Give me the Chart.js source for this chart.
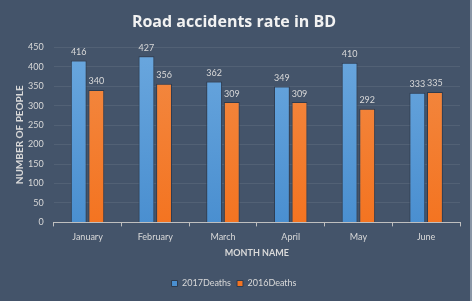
<!DOCTYPE html>
<html>
<head>
<meta charset="utf-8">
<script src="https://cdn.jsdelivr.net/npm/chart.js@4.4.0/dist/chart.umd.min.js"></script>
<style>
  html, body { margin: 0; padding: 0; background: #44546a; }
  #wrap { position: relative; width: 472px; height: 301px; box-sizing: border-box; border-right: 2px solid #8a96a6; }
</style>
</head>
<body>
<div id="wrap"><canvas id="accidents_chart"></canvas></div>
<script>
var months = ['January', 'February', 'March', 'April', 'May', 'June'];
var deaths2017 = [416, 427, 362, 349, 410, 333];
var deaths2016 = [340, 356, 309, 309, 292, 335];

var TEXT = '#d9d9d9';

// value labels above each bar
var valueLabels = {
    id: 'valueLabels',
    afterDatasetsDraw: function(chart) {
        var ctx = chart.ctx;
        ctx.save();
        ctx.font = '9px Lato';
        ctx.fillStyle = TEXT;
        ctx.textAlign = 'center';
        ctx.textBaseline = 'bottom';
        chart.data.datasets.forEach(function(ds, i) {
            chart.getDatasetMeta(i).data.forEach(function(bar, j) {
                ctx.fillText(ds.data[j], bar.x, bar.y - 4);
            });
        });
        ctx.restore();
    }
};

function barGradient(chart, light, dark) {
    var area = chart.chartArea;
    if (!area) return dark;
    var g = chart.ctx.createLinearGradient(0, area.top, 0, area.bottom);
    g.addColorStop(0, light);
    g.addColorStop(1, dark);
    return g;
}

var ctx = document.getElementById('accidents_chart').getContext('2d');
var accidentsChart = new Chart(ctx, {
    type: 'bar',
    data: {
        labels: months,
        datasets: [{
            label: '2017Deaths',
            data: deaths2017,
            backgroundColor: function(c) { return barGradient(c.chart, '#6aa7de', '#4a8fd0'); },
            borderColor: '#2e3b4e',
            borderWidth: 1,
            categoryPercentage: 0.52,
            barPercentage: 0.9
        }, {
            label: '2016Deaths',
            data: deaths2016,
            backgroundColor: function(c) { return barGradient(c.chart, '#f28a44', '#f47421'); },
            borderColor: '#2e3b4e',
            borderWidth: 1,
            categoryPercentage: 0.52,
            barPercentage: 0.9
        }]
    },
    options: {
        responsive: true,
        maintainAspectRatio: false,
        animation: false,
        layout: { padding: { left: 8, right: 10, top: 6, bottom: 3 } },
        plugins: {
            title: {
                display: true,
                text: 'Road accidents rate in BD',
                color: '#f2f2f2',
                font: { family: 'Open Sans', size: 16, weight: 'bold' },
                padding: { top: 7, bottom: 15 }
            },
            legend: {
                position: 'bottom',
                labels: {
                    color: TEXT,
                    font: { family: 'Lato', size: 9 },
                    boxWidth: 6,
                    boxHeight: 6,
                    padding: 6
                }
            },
            tooltip: { enabled: false }
        },
        scales: {
            x: {
                grid: {
                    display: true,
                    drawOnChartArea: false,
                    drawTicks: true,
                    tickLength: 4,
                    color: '#bfbfbf',
                    offset: true
                },
                border: { color: '#bfbfbf', width: 1 },
                ticks: { color: TEXT, font: { family: 'Lato', size: 9 }, padding: 5 },
                title: {
                    display: true,
                    text: 'MONTH NAME',
                    color: TEXT,
                    font: { family: 'Lato', size: 9, weight: 'bold' },
                    padding: { top: 0, bottom: 15 }
                }
            },
            y: {
                min: 0,
                max: 450,
                ticks: { stepSize: 50, color: TEXT, font: { family: 'Lato', size: 9 }, padding: 10 },
                grid: { color: 'rgba(255,255,255,0.08)', drawTicks: false },
                border: { display: false },
                title: {
                    display: true,
                    text: 'NUMBER OF PEOPLE',
                    color: TEXT,
                    font: { family: 'Lato', size: 10, weight: 'bold' },
                    padding: { top: 6, bottom: -8 }
                }
            }
        }
    },
    plugins: [valueLabels]
});
</script>
</body>
</html>
